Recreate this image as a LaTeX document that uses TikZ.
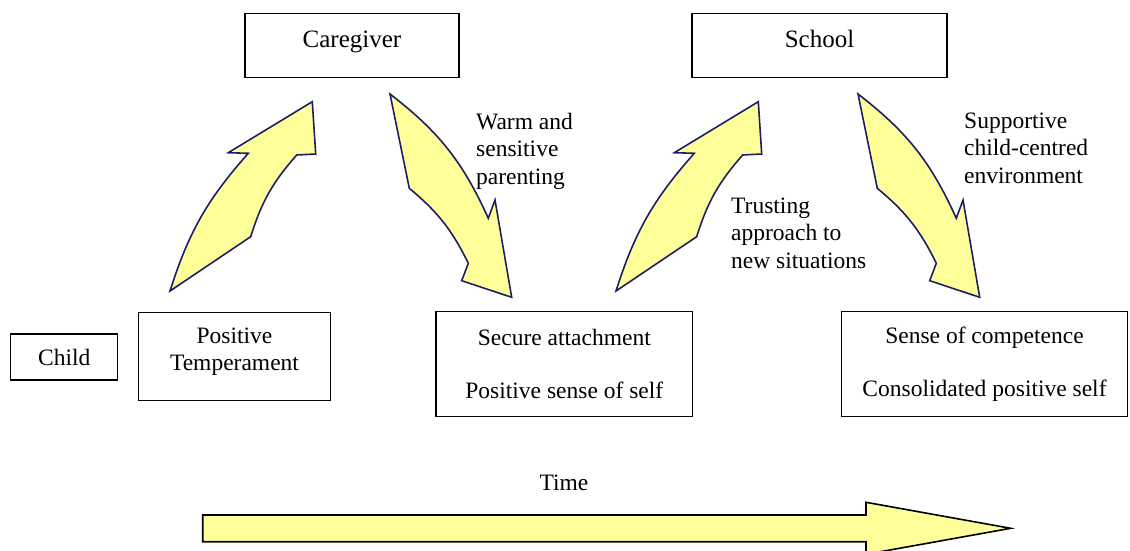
\documentclass[tikz,border=0pt]{standalone}
\usepackage{fontspec}
\setmainfont{Liberation Serif}
\usetikzlibrary{positioning}
\definecolor{paleyellow}{RGB}{255,255,153}
\definecolor{navyline}{RGB}{30,30,100}

\begin{document}
\begin{tikzpicture}[x=1pt,y=-1pt,line join=miter,
  stage node/.style={rectangle,draw,line width=1.2pt,align=center,
    font=\fontsize{23.5}{27.5}\selectfont},
  top node/.style={stage node,font=\fontsize{25}{30}\selectfont,anchor=north,
    inner ysep=17.6pt,text height=17pt,text depth=11.8pt},
  note/.style={align=left,anchor=north west,inner sep=0pt,
    font=\fontsize{23.5}{27.5}\selectfont},
  bend arrow/.style={fill=paleyellow,draw=navyline,line width=1.6pt},
  time arrow/.style={fill=paleyellow,draw=black,line width=1.6pt}]

  \useasboundingbox (0,0) rectangle (1130,551);

  \node[top node,minimum width=214pt] (Caregiver) at (352,12.7) {Caregiver};
  \node[top node,minimum width=255pt] (School) at (819.5,12.7) {School};
  \node[stage node,minimum width=107pt,minimum height=46pt] (Child) at (64.3,357) {Child};
  \node[stage node,minimum width=192pt,inner ysep=15.5pt,text depth=14pt,anchor=north]
  (Temperament) at (234.5,311.5) {Positive\\Temperament};
  \node[stage node,minimum width=256.7pt,minimum height=105pt] (Attachment) at (564.3,364.2)
  {Secure attachment\\[26pt]Positive sense of self};
  \node[stage node,minimum width=285.5pt,minimum height=105pt] (Competence) at (984.5,364.2)
  {Sense of competence\\[26pt]Consolidated positive self};

  \node[note] (Parenting) at (476,112.5) {Warm and\\sensitive\\parenting};
  \node[note] (Trusting) at (731,197.3) {Trusting\\approach to\\new situations};
  \node[note] (Supportive) at (964,112.3) {Supportive\\child-centred\\environment};
  \node[font=\fontsize{23.5}{27.5}\selectfont] (Time) at (564,483) {Time};

  \foreach \dx in {0,446}
    \draw[bend arrow,xshift=\dx pt] (170,291) to[bend left=12] (248.3,153.3) -- (228.3,152.7)
      -- (312.3,101.7) -- (315.7,154) -- (296.7,155) to[bend right=12] (250.7,236.7) -- cycle;

  \foreach \dx in {0,468}
    \draw[bend arrow,xshift=\dx pt] (409.3,188.3) to[bend left=12] (468.3,263.3) -- (461.7,280.7)
      -- (511.7,297.3) -- (495,200) -- (488.3,218.3) to[bend right=14] (390,94) -- cycle;

  \draw[time arrow] (202.7,515) -- (866,515) -- (866,502.3) -- (1010.7,528.3)
    -- (866,554.3) -- (866,541.7) -- (202.7,541.7) -- cycle;
\end{tikzpicture}
\end{document}
